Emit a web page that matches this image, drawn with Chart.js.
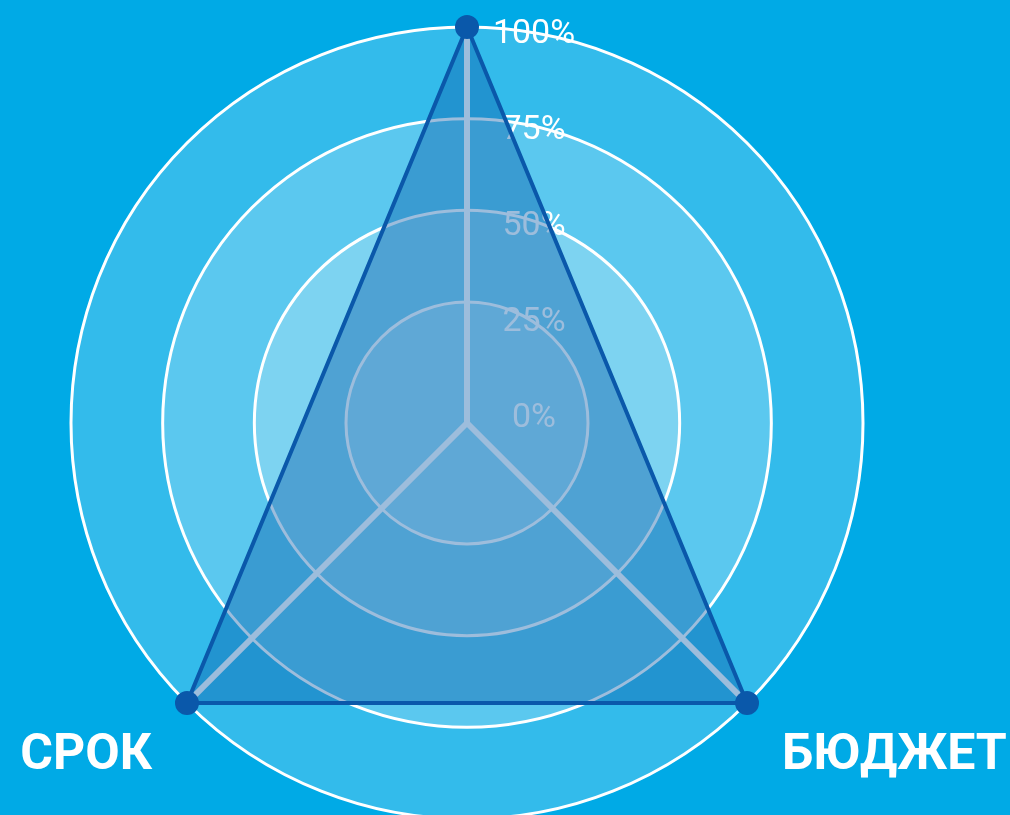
<!DOCTYPE html>
<html>
<head>
<meta charset="utf-8">
<script src="https://cdn.jsdelivr.net/npm/chart.js@4.4.1/dist/chart.umd.min.js"></script>
<style>
  html, body { margin: 0; padding: 0; overflow: hidden; background: #00aae6; }
  #wrap { position: absolute; left: 0; top: 0; width: 1010px; height: 830px; }
</style>
</head>
<body>
<div id="wrap"><canvas id="radarChart"></canvas></div>
<script>
// 8 spokes, only three of them used (top, bottom-right, bottom-left)
var axisLabels = ['', '', '', 'БЮДЖЕТ', '', 'СРОК', '', ''];
var values = [100, null, null, 100, null, 100, null, null];
var tickValues = [0, 25, 50, 75, 100];
var tickLabels = ['0%', '25%', '50%', '75%', '100%'];
var usedAxes = [0, 3, 5];

// ring fills, outer to inner
var ringValues = [100, 75, 50, 25];
var ringColors = ['#33bbeb', '#5bc8ef', '#7dd3f1', '#98dcf5'];

var rings = {
    id: 'rings',
    beforeDraw: function(chart) {
        var s = chart.scales.r, ctx = chart.ctx;
        ctx.save();
        for (var i = 0; i < ringValues.length; i++) {
            ctx.beginPath();
            ctx.arc(s.xCenter, s.yCenter, s.getDistanceFromCenterForValue(ringValues[i]), 0, Math.PI * 2);
            ctx.fillStyle = ringColors[i];
            ctx.fill();
        }
        ctx.restore();
    },
    beforeDatasetsDraw: function(chart) {
        // tick labels, under the dataset fill
        var s = chart.scales.r, ctx = chart.ctx;
        var r0 = 5, r100 = s.getDistanceFromCenterForValue(100) - 7;
        ctx.save();
        ctx.font = '34px Roboto';
        ctx.fillStyle = '#ffffff';
        ctx.textAlign = 'center';
        ctx.textBaseline = 'middle';
        for (var i = 0; i < tickValues.length; i++) {
            var r = r0 + (r100 - r0) * tickValues[i] / 100;
            ctx.fillText(tickLabels[i], s.xCenter + 67, s.yCenter - r);
        }
        ctx.restore();
    },
    afterDraw: function(chart) {
        var s = chart.scales.r, ctx = chart.ctx;
        ctx.save();
        ctx.font = 'bold 50px Roboto';
        ctx.fillStyle = '#ffffff';
        ctx.textBaseline = 'alphabetic';
        for (var i = 0; i < axisLabels.length; i++) {
            if (!axisLabels[i]) continue;
            var p = s.getPointPosition(i, s.drawingArea);
            var left = p.x < s.xCenter;
            ctx.textAlign = left ? 'right' : 'left';
            ctx.fillText(axisLabels[i], p.x + (left ? -35 : 35), p.y + 66);
        }
        ctx.restore();
    }
};

new Chart(document.getElementById('radarChart'), {
    type: 'radar',
    data: {
        labels: axisLabels,
        datasets: [{
            data: values,
            spanGaps: true,
            fill: 'start',
            backgroundColor: 'rgba(11, 89, 167, 0.4)',
            borderColor: '#0a58aa',
            borderWidth: 4,
            pointRadius: 12,
            pointHoverRadius: 12,
            pointBackgroundColor: '#0a58aa',
            pointBorderWidth: 0
        }]
    },
    options: {
        responsive: true,
        maintainAspectRatio: false,
        animation: false,
        layout: { padding: { top: 27, right: 76, bottom: 11, left: 0 } },
        plugins: { legend: { display: false }, tooltip: { enabled: false } },
        scales: {
            r: {
                min: -8,
                max: 100,
                ticks: { display: false, stepSize: 25 },
                pointLabels: { display: false },
                grid: {
                    circular: true,
                    lineWidth: 3,
                    color: function(c) {
                        var v = c.tick ? c.tick.value : null;
                        return v > 0 && tickValues.indexOf(v) >= 0 ? '#ffffff' : 'rgba(0,0,0,0)';
                    }
                },
                angleLines: {
                    lineWidth: 6,
                    color: function(c) {
                        return usedAxes.indexOf(c.index) >= 0 ? '#ffffff' : 'rgba(0,0,0,0)';
                    }
                }
            }
        }
    },
    plugins: [rings]
});
</script>
</body>
</html>
